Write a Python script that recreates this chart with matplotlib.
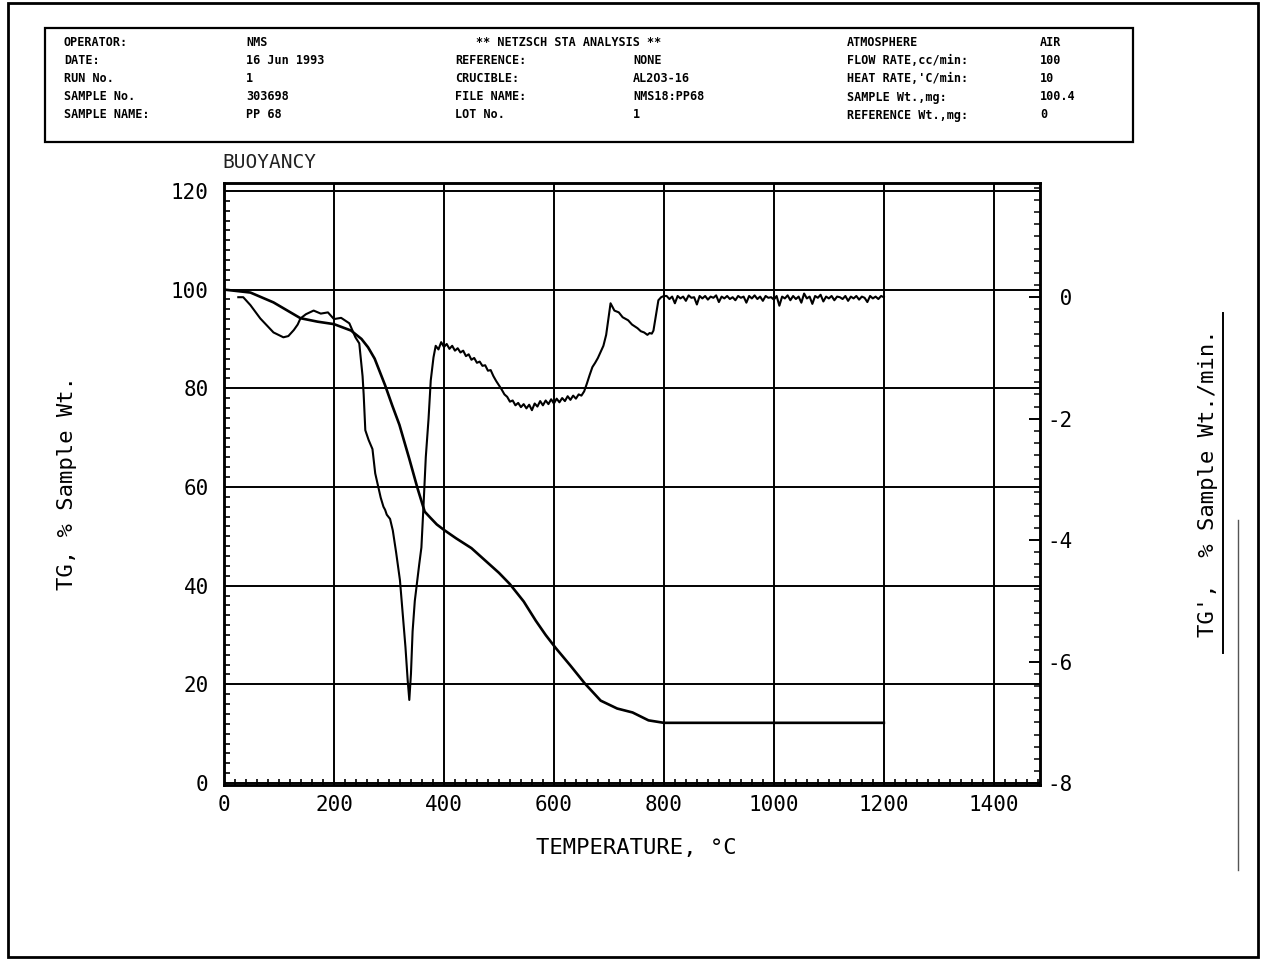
import matplotlib
matplotlib.use("Agg")
import matplotlib.pyplot as plt
from matplotlib.ticker import MultipleLocator
from matplotlib.lines import Line2D
from matplotlib.patches import Rectangle

plt.rcParams["axes.unicode_minus"] = False
MONO = "DejaVu Sans Mono"

# ---------------- run information ----------------
header_rows = [
    ["OPERATOR:", "NMS", "** NETZSCH STA ANALYSIS **", "", "ATMOSPHERE", "AIR"],
    ["DATE:", "16 Jun 1993", "REFERENCE:", "NONE", "FLOW RATE,cc/min:", "100"],
    ["RUN No.", "1", "CRUCIBLE:", "AL2O3-16", "HEAT RATE,'C/min:", "10"],
    ["SAMPLE No.", "303698", "FILE NAME:", "NMS18:PP68", "SAMPLE Wt.,mg:", "100.4"],
    ["SAMPLE NAME:", "PP 68", "LOT No.", "1", "REFERENCE Wt.,mg:", "0"],
]

# ---------------- TG curve (% sample weight) ----------------
tg_temp = [0, 48, 90, 139, 170, 200, 231, 250, 262, 274, 293, 306, 319, 337,
           352, 365, 375, 387, 400, 422, 450, 476, 500, 520, 545, 567, 585,
           603, 630, 656, 685, 715, 743, 772, 800, 1200]
tg_pct = [100, 99.4, 97.4, 94.2, 93.5, 93.0, 91.7, 90.0, 88.3, 86.0, 80.6,
          76.5, 72.6, 65.7, 59.7, 55.0, 53.8, 52.4, 51.3, 49.6, 47.6, 45.0,
          42.6, 40.3, 36.8, 32.9, 30.0, 27.4, 23.8, 20.2, 16.7, 15.1, 14.3,
          12.7, 12.2, 12.2]

# ---------------- TG' curve (% sample weight / min) ----------------
# first loss steps and the main decomposition peak
dtg_temp_a = [26, 35, 48, 66, 90, 108, 117, 127, 134, 139, 149, 163, 176, 189,
              200, 213, 228, 239, 246, 252, 254, 257, 263, 270, 275, 280, 285,
              290, 293, 296, 302, 307, 313, 320, 325, 330, 334, 337, 340, 343,
              347, 350, 355, 359, 363, 367, 372, 376, 381]
dtg_rate_a = [0.0, 0.0, -0.13, -0.35, -0.58, -0.66, -0.64, -0.54, -0.45, -0.35,
              -0.28, -0.22, -0.27, -0.25, -0.36, -0.34, -0.43, -0.66, -0.76,
              -1.30, -1.60, -2.19, -2.35, -2.50, -2.90, -3.10, -3.30, -3.45,
              -3.50, -3.58, -3.65, -3.84, -4.20, -4.66, -5.20, -5.76, -6.30,
              -6.63, -6.20, -5.50, -5.00, -4.77, -4.40, -4.12, -3.40, -2.63,
              -2.00, -1.37, -0.99]
# broad oxidation trough
dtg_temp_b = [385, 390, 395, 400, 405, 410, 415, 420, 425, 430,
              435, 440, 445, 450, 455, 460, 465, 470, 475, 480,
              485, 490, 495, 500, 505, 510, 515, 520, 525, 530,
              535, 540, 545, 550, 555, 560, 565, 570, 575, 580,
              585, 590, 595, 600, 605, 610, 615, 620, 625, 630,
              635, 640, 645, 650, 655, 660, 665, 670, 675, 680,
              685, 690, 695, 700]
dtg_rate_b = [-0.80, -0.86, -0.74, -0.82, -0.77, -0.85, -0.80, -0.88, -0.84, -0.91,
              -0.88, -0.97, -0.94, -1.03, -1.00, -1.08, -1.06, -1.13, -1.12, -1.21,
              -1.20, -1.30, -1.38, -1.45, -1.52, -1.60, -1.64, -1.72, -1.70, -1.78,
              -1.74, -1.81, -1.76, -1.83, -1.77, -1.86, -1.75, -1.80, -1.71, -1.78,
              -1.70, -1.76, -1.68, -1.75, -1.67, -1.73, -1.66, -1.71, -1.63, -1.69,
              -1.62, -1.67, -1.60, -1.62, -1.55, -1.42, -1.28, -1.15, -1.08, -1.00,
              -0.90, -0.80, -0.62, -0.30]
# last loss step
dtg_temp_c = [703, 710, 718, 725, 735, 742, 752, 758, 764, 770, 774, 778, 781,
              784, 787, 790, 795, 800]
dtg_rate_c = [-0.10, -0.22, -0.25, -0.33, -0.38, -0.45, -0.51, -0.56, -0.58,
              -0.62, -0.59, -0.60, -0.55, -0.38, -0.20, -0.05, 0.0, 0.02]
# constant-weight plateau
dtg_temp_d = [805, 810, 815, 820, 825, 830, 835, 840, 845, 850,
              855, 860, 865, 870, 875, 880, 885, 890, 895, 900,
              905, 910, 915, 920, 925, 930, 935, 940, 945, 950,
              955, 960, 965, 970, 975, 980, 985, 990, 995, 1000,
              1005, 1010, 1015, 1020, 1025, 1030, 1035, 1040, 1045, 1050,
              1055, 1060, 1065, 1070, 1075, 1080, 1085, 1090, 1095, 1100,
              1105, 1110, 1115, 1120, 1125, 1130, 1135, 1140, 1145, 1150,
              1155, 1160, 1165, 1170, 1175, 1180, 1185, 1190, 1195, 1200]
dtg_rate_d = [0.02, -0.03, 0.01, -0.10, 0.02, -0.02, 0.01, -0.06, 0.03, -0.01,
              0.0, -0.12, 0.02, -0.02, 0.02, -0.04, 0.01, -0.01, 0.03, -0.08,
              0.01, -0.02, 0.02, -0.03, 0.0, -0.05, 0.02, -0.01, 0.01, -0.09,
              0.02, -0.02, 0.03, -0.03, 0.01, -0.06, 0.02, -0.01, 0.0, -0.04,
              0.02, -0.14, 0.01, -0.02, 0.03, -0.05, 0.02, -0.03, 0.01, -0.09,
              0.06, -0.02, 0.01, -0.11, 0.02, -0.01, 0.04, -0.07, 0.01, -0.02,
              0.02, -0.05, 0.01, 0.0, -0.03, 0.02, -0.06, 0.01, -0.02, 0.02,
              -0.04, 0.01, -0.01, -0.08, 0.02, -0.02, 0.01, -0.03, 0.02, 0.0]

dtg_temp = dtg_temp_a + dtg_temp_b + dtg_temp_c + dtg_temp_d
dtg_rate = dtg_rate_a + dtg_rate_b + dtg_rate_c + dtg_rate_d

x_ticks = [0, 200, 400, 600, 800, 1000, 1200, 1400]
tg_ticks = [0, 20, 40, 60, 80, 100, 120]
dtg_ticks = [-8, -6, -4, -2, 0]

# ---------------- figure ----------------
W, H = 1261, 960
fig = plt.figure(figsize=(W / 100, H / 100), dpi=100)
fig.patch.set_facecolor("white")


def fx(px):
    return px / W


def fy(py):
    return 1 - py / H


# page frame
fig.add_artist(Rectangle((fx(8), fy(957)), fx(1250), 954 / H, transform=fig.transFigure,
                         fill=False, lw=2.0, ec="black"))

# header box and run information
fig.add_artist(Rectangle((fx(45), fy(142)), fx(1088), 114 / H, transform=fig.transFigure,
                         fill=False, lw=1.6, ec="black"))
col_x = [64, 246, 455, 633, 847, 1040]
row_y = [43, 61, 79, 97, 115]
for r, row in enumerate(header_rows):
    for c, txt in enumerate(row):
        xpos = col_x[c] + (21 if (r == 0 and c == 2) else 0)
        fig.text(fx(xpos), fy(row_y[r]), txt, family=MONO, weight="bold",
                 fontsize=8.5, ha="left", va="center")

# plot area
ax = fig.add_axes([fx(224), fy(785), (1040 - 224) / W, (785 - 183) / H])
ax.set_xlim(0, 1484)
ax.set_ylim(-0.4, 121.6)
for s in ax.spines.values():
    s.set_linewidth(1.8)

ax.set_xticks(x_ticks)
ax.set_xticklabels([str(v) for v in x_ticks], family=MONO, fontsize=15)
ax.set_yticks(tg_ticks)
ax.set_yticklabels([str(v) for v in tg_ticks], family=MONO, fontsize=15)
ax.xaxis.set_minor_locator(MultipleLocator(20))
ax.yaxis.set_minor_locator(MultipleLocator(2))
ax.tick_params(axis="x", which="major", length=0, pad=7)
ax.tick_params(axis="y", which="major", length=0, pad=11)
ax.tick_params(which="minor", direction="in", length=4, width=1.2)
ax.grid(True, which="major", color="black", lw=1.4)
ax.set_axisbelow(True)

ax.plot(tg_temp, tg_pct, color="black", lw=1.9, solid_joinstyle="round", zorder=3)

ax2 = ax.twinx()
ax2.set_ylim(-8.03, 1.88)
ax2.set_yticks(dtg_ticks)
ax2.set_yticklabels([f"{v:>2d}" for v in dtg_ticks], family=MONO, fontsize=15)
ax2.yaxis.set_minor_locator(MultipleLocator(0.2))
ax2.tick_params(axis="y", which="major", direction="in", length=8, width=1.4, pad=5)
ax2.tick_params(axis="y", which="minor", direction="in", length=4, width=1.1)
for s in ax2.spines.values():
    s.set_linewidth(1.8)
ax2.plot(dtg_temp, dtg_rate, color="black", lw=1.5, solid_joinstyle="round", zorder=3)

# labels
fig.text(fx(222), fy(163), "BUOYANCY", family=MONO, fontsize=14, color="#222222",
         ha="left", va="center")
fig.text(fx(67), fy(483), "TG, % Sample Wt.", family=MONO, fontsize=16,
         rotation=90, ha="center", va="center")
fig.text(fx(636), fy(848), "TEMPERATURE, \u00b0C", family=MONO, fontsize=16,
         ha="center", va="center")
fig.text(fx(1208), fy(483), "TG',  % Sample Wt./min.", family=MONO, fontsize=16,
         rotation=90, ha="center", va="center")
fig.add_artist(Line2D([fx(1223), fx(1223)], [fy(313), fy(653)],
                      transform=fig.transFigure, color="black", lw=1.4))
fig.add_artist(Line2D([fx(1238), fx(1238)], [fy(520), fy(870)],
                      transform=fig.transFigure, color="#555555", lw=1.0))

fig.savefig("out.png", dpi=100, facecolor="white")
